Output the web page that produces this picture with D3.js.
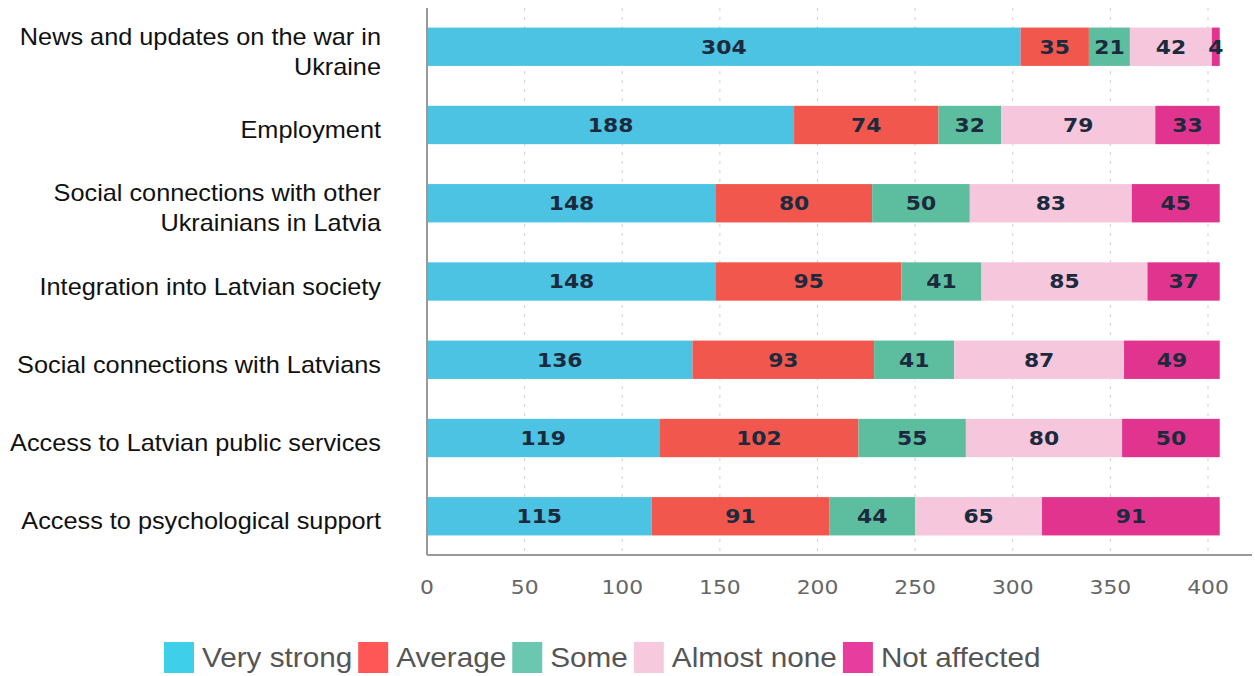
<!DOCTYPE html>
<html>
<head>
<meta charset="utf-8">
<script src="https://cdn.jsdelivr.net/npm/d3@7"></script>
<style>
  body { margin: 0; background: #fff; }
  svg { display: block; }
</style>
</head>
<body>
<div id="chart"></div>
<script>
// categories top to bottom
var categories = [
  "News and updates on the war in Ukraine",
  "Employment",
  "Social connections with other Ukrainians in Latvia",
  "Integration into Latvian society",
  "Social connections with Latvians",
  "Access to Latvian public services",
  "Access to psychological support"
];
// label lines as they wrap in the picture
var catLines = [
  ["News and updates on the war in", "Ukraine"],
  ["Employment"],
  ["Social connections with other", "Ukrainians in Latvia"],
  ["Integration into Latvian society"],
  ["Social connections with Latvians"],
  ["Access to Latvian public services"],
  ["Access to psychological support"]
];

var seriesNames = ["Very strong", "Average", "Some", "Almost none", "Not affected"];
var veryStrong  = [304, 188, 148, 148, 136, 119, 115];
var average     = [35, 74, 80, 95, 93, 102, 91];
var some        = [21, 32, 50, 41, 41, 55, 44];
var almostNone  = [42, 79, 83, 85, 87, 80, 65];
var notAffected = [4, 33, 45, 37, 49, 50, 91];
var xTicks = [0, 50, 100, 150, 200, 250, 300, 350, 400];

var barColors = ["#4cc3e3", "#f2574d", "#5cbd9f", "#f6c7dc", "#e1348e"];
var legendColors = ["#3ecfe9", "#ff5656", "#6cc7b1", "#f7c9dd", "#e63d9e"];

var W = 1255, H = 676;
var mLeft = 427, mRight = 1208, mTop = 8, mBottom = 555;
var stretch = 1.1; // the source text looks a little wide

var rows = categories.map(function(c, i) {
  return {
    cat: c, "Very strong": veryStrong[i], "Average": average[i], "Some": some[i],
    "Almost none": almostNone[i], "Not affected": notAffected[i]
  };
});
var stacked = d3.stack().keys(seriesNames)(rows);

var x = d3.scaleLinear().domain([0, 400]).range([mLeft, mRight]);
var y = d3.scaleBand().domain(categories).range([mTop, mBottom]).paddingInner(0.51).paddingOuter(0.25);

var svg = d3.select("#chart").append("svg").attr("width", W).attr("height", H);

// dashed gridlines
svg.append("g").selectAll("line")
  .data(xTicks.slice(1))
  .enter().append("line")
  .attr("x1", function(d){ return x(d) }).attr("x2", function(d){ return x(d) })
  .attr("y1", mTop).attr("y2", mBottom)
  .attr("stroke", "#cfcfcf").attr("stroke-width", 1)
  .attr("stroke-dasharray", "3,6");

// bars
var groups = svg.append("g").selectAll("g")
  .data(stacked)
  .enter().append("g")
  .attr("fill", function(d, i){ return barColors[i] });

groups.selectAll("rect")
  .data(function(d){ return d })
  .enter().append("rect")
  .attr("x", function(d){ return x(d[0]) })
  .attr("y", function(d){ return y(d.data.cat) })
  .attr("width", function(d){ return x(d[1]) - x(d[0]) })
  .attr("height", y.bandwidth());

// value labels
groups.selectAll("text")
  .data(function(d){ return d.map(function(p){ return {p: p, v: p[1] - p[0]} }) })
  .enter().append("text")
  .attr("transform", function(d){
    return "translate(" + (x(d.p[0]) + x(d.p[1])) / 2 + "," + (y(d.p.data.cat) + y.bandwidth() / 2) + ") scale(1.15,1)"
  })
  .attr("dy", "0.36em")
  .attr("text-anchor", "middle")
  .attr("fill", "#1c2a3d")
  .style("font-family", "'DejaVu Sans', sans-serif")
  .style("font-weight", "bold")
  .style("font-size", "19px")
  .text(function(d){ return d.v });

// axis lines
svg.append("line")
  .attr("x1", mLeft).attr("x2", mLeft).attr("y1", mTop).attr("y2", mBottom)
  .attr("stroke", "#999").attr("stroke-width", 2);
svg.append("line")
  .attr("x1", mLeft).attr("x2", 1252).attr("y1", mBottom).attr("y2", mBottom)
  .attr("stroke", "#999").attr("stroke-width", 2);

// x tick labels
svg.append("g").selectAll("text")
  .data(xTicks)
  .enter().append("text")
  .attr("transform", function(d){ return "translate(" + x(d) + ",587) scale(1.15,1)" })
  .attr("dy", "0.35em")
  .attr("text-anchor", "middle")
  .attr("fill", "#666")
  .style("font-family", "'DejaVu Sans', sans-serif")
  .style("font-size", "19px")
  .text(function(d){ return d });

// category labels
var catG = svg.append("g").selectAll("text")
  .data(categories)
  .enter().append("text")
  .attr("text-anchor", "end")
  .attr("fill", "#111")
  .style("font-family", "'Liberation Sans', Arial, sans-serif")
  .style("font-size", "23px")
  .attr("transform", function(d){
    return "translate(381," + (y(d) + y.bandwidth() / 2 + 5) + ") scale(" + stretch + ",1)"
  });

catG.selectAll("tspan")
  .data(function(d, i){
    var lines = catLines[i];
    return lines.map(function(l, j){ return {t: l, off: (j - (lines.length - 1) / 2) * 30} });
  })
  .enter().append("tspan")
  .attr("x", 0)
  .attr("y", function(d){ return d.off })
  .attr("dy", "0.35em")
  .text(function(d){ return d.t });

// legend
var legend = svg.append("g").attr("transform", "translate(0,658)");
var lx = 164;
seriesNames.forEach(function(name, i) {
  legend.append("rect")
    .attr("x", lx).attr("y", -16).attr("width", 30).attr("height", 31)
    .attr("fill", legendColors[i]);
  var t = legend.append("text")
    .attr("transform", "translate(" + (lx + 38) + ",0) scale(" + stretch + ",1)")
    .attr("dy", "0.35em")
    .attr("fill", "#555")
    .style("font-family", "'Liberation Sans', Arial, sans-serif")
    .style("font-size", "27px")
    .text(name);
  lx += 38 + t.node().getComputedTextLength() * stretch + 6;
});
</script>
</body>
</html>
